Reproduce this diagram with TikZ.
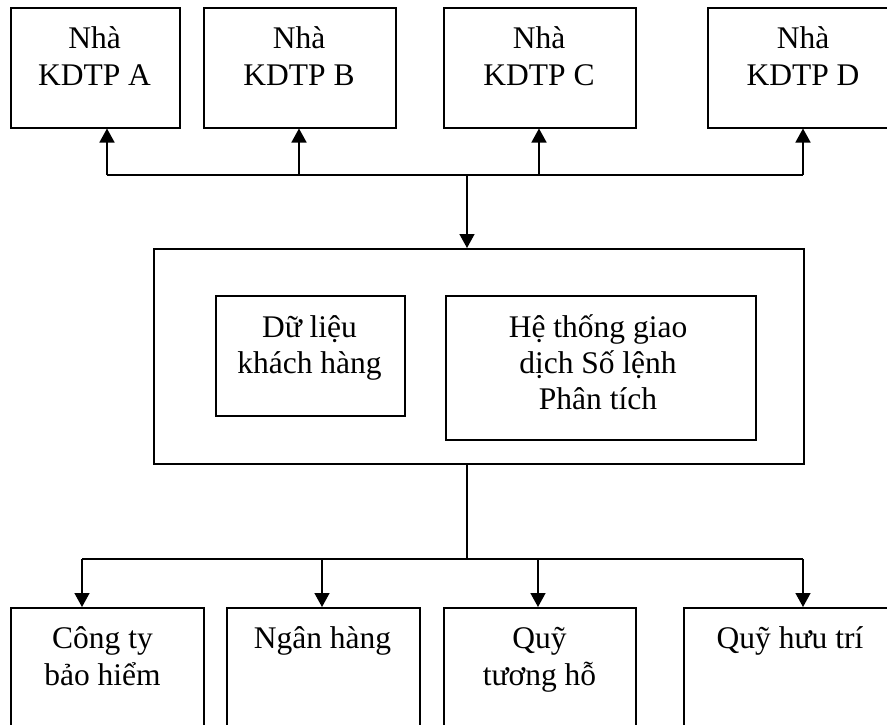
\documentclass[tikz,border=0pt]{standalone}
\usepackage{fontspec}
\setmainfont{Liberation Serif}
\usetikzlibrary{arrows.meta}
\begin{document}
\begin{tikzpicture}[x=1pt,y=-1pt,
  box/.style={draw,line width=1.5pt,rectangle,anchor=north west,inner sep=0pt,minimum height=#1},
  box/.default=120pt,
  lbl/.style={align=center,anchor=north,inner sep=0pt,font=\fontsize{31.5}{37}\selectfont},
  lblin/.style={align=center,anchor=north,inner sep=0pt,font=\fontsize{31.5}{36}\selectfont},
  conn/.style={line width=1.5pt},
  arr/.style={line width=1.5pt,-{Triangle[width=15pt,length=14pt]}}]
\useasboundingbox (0,0) rectangle (887,724);
% top boxes
\node[box,minimum width=169pt] (A) at (10,7) {};
\node[box,minimum width=192pt] (B) at (203,7) {};
\node[box,minimum width=192pt] (C) at (443,7) {};
\node[box,minimum width=192pt] (D) at (707,7) {};
\node[lbl] (tA) at (94.5,22.1) {\strut Nhà\\KDTP A};
\node[lbl] (tB) at (299,22.1) {\strut Nhà\\KDTP B};
\node[lbl] (tC) at (539,22.1) {\strut Nhà\\KDTP C};
\node[lbl] (tD) at (803,22.1) {\strut Nhà\\KDTP D};
% central
\node[box=215pt,minimum width=650pt] (M) at (153,248) {};
\node[box=120pt,minimum width=189pt] (I1) at (215,295) {};
\node[box=144pt,minimum width=310pt] (I2) at (445,295) {};
\node[lblin] (t1) at (309.5,311.8) {\strut Dữ liệu\\khách hàng};
\node[lblin] (t2) at (598,311.8) {\strut Hệ thống giao\\dịch Số lệnh\\Phân tích};
% bottom boxes
\node[box=140pt,minimum width=193pt] (P1) at (10,607) {};
\node[box=140pt,minimum width=193pt] (P2) at (226,607) {};
\node[box=140pt,minimum width=192pt] (P3) at (443,607) {};
\node[box=140pt,minimum width=214pt] (P4) at (683,607) {};
\node[lbl] (b1) at (102.5,622.1) {\strut Công ty\\bảo hiểm};
\node[lbl] (b2) at (322.5,622.1) {\strut Ngân hàng};
\node[lbl] (b3) at (539.5,622.1) {\strut Quỹ\\tương hỗ};
\node[lbl] (b4) at (790,622.1) {\strut Quỹ hưu trí};
% top bus
\coordinate (ja) at (107,175);
\coordinate (jb) at (299,175);
\coordinate (jc) at (539,175);
\coordinate (jd) at (803,175);
\coordinate (jm) at (467,175);
\draw[conn] (ja) -- (jd);
\draw[arr] (ja) -- (ja |- A.south);
\draw[arr] (jb) -- (jb |- B.south);
\draw[arr] (jc) -- (jc |- C.south);
\draw[arr] (jd) -- (jd |- D.south);
\draw[arr] (jm) -- (jm |- M.north);
% bottom bus
\coordinate (k1) at (82,559);
\coordinate (k2) at (322,559);
\coordinate (k3) at (538,559);
\coordinate (k4) at (803,559);
\coordinate (km) at (467,559);
\draw[conn] (km |- M.south) -- (km);
\draw[conn] (k1) -- (k4);
\draw[arr] (k1) -- (k1 |- P1.north);
\draw[arr] (k2) -- (k2 |- P2.north);
\draw[arr] (k3) -- (k3 |- P3.north);
\draw[arr] (k4) -- (k4 |- P4.north);
\end{tikzpicture}
\end{document}
